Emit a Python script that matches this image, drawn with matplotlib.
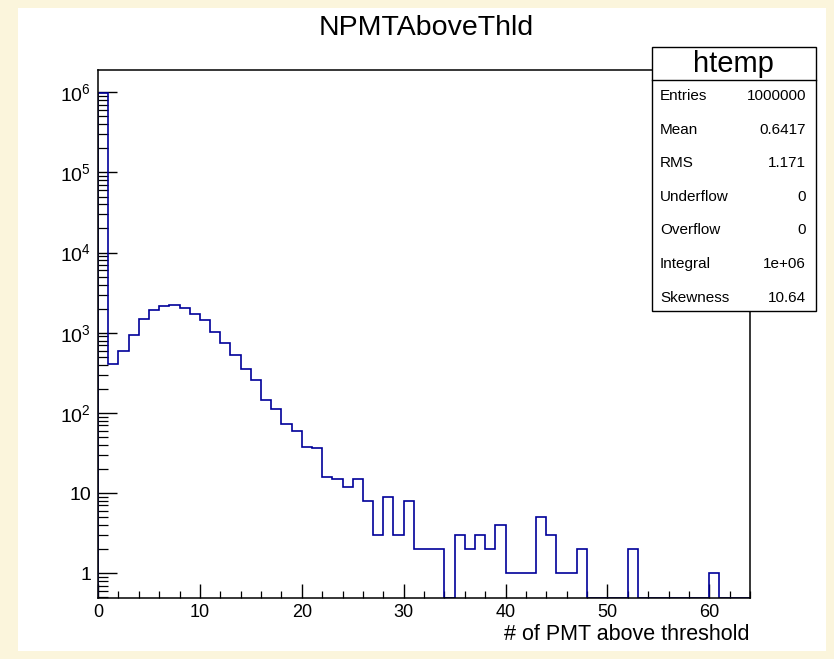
import numpy as np
import matplotlib
matplotlib.use("Agg")
import matplotlib.pyplot as plt
from matplotlib.patches import Rectangle
from matplotlib.lines import Line2D
from matplotlib.ticker import FixedLocator, FixedFormatter, LogLocator, MultipleLocator, NullFormatter

plt.rcParams['font.family'] = ['Liberation Sans', 'DejaVu Sans']
plt.rcParams['mathtext.fontset'] = 'custom'
plt.rcParams['mathtext.rm'] = 'Liberation Sans'
plt.rcParams['mathtext.it'] = 'Liberation Sans:italic'

# Histogram contents: 64 unit-width bins of NPMTAboveThld
bin_edges = np.arange(0, 65)
counts = [981600, 407, 596, 927, 1483, 1936, 2155, 2198, 2033, 1726,
          1442, 1021, 738, 527, 349, 259, 144, 112, 72, 59,
          37, 36, 16, 15, 12, 15, 8, 3, 9, 3,
          8, 2, 2, 2, 0, 3, 2, 3, 2, 4,
          1, 1, 1, 5, 3, 1, 1, 2, 0, 0,
          0, 0, 2, 0, 0, 0, 0, 0, 0, 0,
          1, 0, 0, 0]

y_tick_values = [1, 10, 1e2, 1e3, 1e4, 1e5, 1e6]
y_tick_labels = ["1", "10", "$10^{2}$", "$10^{3}$", "$10^{4}$", "$10^{5}$", "$10^{6}$"]
x_tick_values = [0, 10, 20, 30, 40, 50, 60]

stat_names = ["Entries", "Mean", "RMS", "Underflow", "Overflow", "Integral", "Skewness"]
stat_values = ["1000000", "0.6417", "1.171", "0", "0", "1e+06", "10.64"]

W, H = 834, 659
fig = plt.figure(figsize=(W / 100, H / 100), dpi=100)
fig.patch.set_facecolor("#fbf5dc")

def fx(px):
    return px / W

def fy(py):
    return 1 - py / H

# white canvas
fig.add_artist(Rectangle((fx(18), fy(651)), fx(826) - fx(18), fy(8) - fy(651),
                         transform=fig.transFigure, facecolor="white",
                         edgecolor="none", zorder=0))

ax_l, ax_r, ax_t, ax_b = 98, 750, 70, 598
ax = fig.add_axes([fx(ax_l), fy(ax_b), fx(ax_r) - fx(ax_l), fy(ax_t) - fy(ax_b)])
ax.set_facecolor("white")

ylow, yhigh = 0.49, 1.9e6
ax.set_yscale("log")
ax.set_xlim(0, 64)
ax.set_ylim(ylow, yhigh)

shown = np.maximum(np.asarray(counts, dtype=float), ylow)
ax.stairs(shown, bin_edges, baseline=ylow, color="#000099", linewidth=1.2,
          zorder=2, clip_on=True)

for s in ax.spines.values():
    s.set_linewidth(1.1)
    s.set_color("black")
    s.set_zorder(3)

ax.yaxis.set_major_locator(FixedLocator(y_tick_values))
ax.yaxis.set_major_formatter(FixedFormatter(y_tick_labels))
ax.yaxis.set_minor_locator(LogLocator(base=10, subs=np.arange(2, 10), numticks=20))
ax.yaxis.set_minor_formatter(NullFormatter())
ax.xaxis.set_major_locator(FixedLocator(x_tick_values))
ax.xaxis.set_minor_locator(MultipleLocator(2))

ax.tick_params(axis="y", which="major", direction="in", length=13.5, width=1.0,
               labelsize=14, pad=5, left=True, right=False)
ax.tick_params(axis="y", which="minor", direction="in", length=7, width=0.9,
               left=True, right=False)
ax.tick_params(axis="x", which="major", direction="in", length=10, width=1.0,
               labelsize=13, pad=4, bottom=True, top=False)
ax.tick_params(axis="x", which="minor", direction="in", length=5, width=0.9,
               bottom=True, top=False)

# title and axis label
fig.text(fx(426), fy(28), "NPMTAboveThld", ha="center", va="center", fontsize=20.5)
fig.text(fx(750), fy(634), "# of PMT above threshold", ha="right", va="center",
         fontsize=15.5)

# statistics box
bx0, bx1, by0, by1, bsep = 651.5, 815.5, 47, 311, 80
fig.add_artist(Rectangle((fx(bx0), fy(by1)), fx(bx1) - fx(bx0), fy(by0) - fy(by1),
                         transform=fig.transFigure, facecolor="white",
                         edgecolor="black", linewidth=1.0, zorder=5))
fig.add_artist(Line2D([fx(bx0), fx(bx1)], [fy(bsep), fy(bsep)],
                      transform=fig.transFigure, color="black", linewidth=1.0,
                      zorder=6))
fig.text(fx((bx0 + bx1) / 2), fy(63.5), "htemp", ha="center", va="center",
         fontsize=21, zorder=7)
row_y0, row_dy = 96, 33.6
for i, (name, val) in enumerate(zip(stat_names, stat_values)):
    yy = row_y0 + i * row_dy
    fig.text(fx(660), fy(yy), name, ha="left", va="center", fontsize=11, zorder=7)
    fig.text(fx(806), fy(yy), val, ha="right", va="center", fontsize=11, zorder=7)

fig.savefig("out.png", dpi=100, facecolor=fig.get_facecolor())
